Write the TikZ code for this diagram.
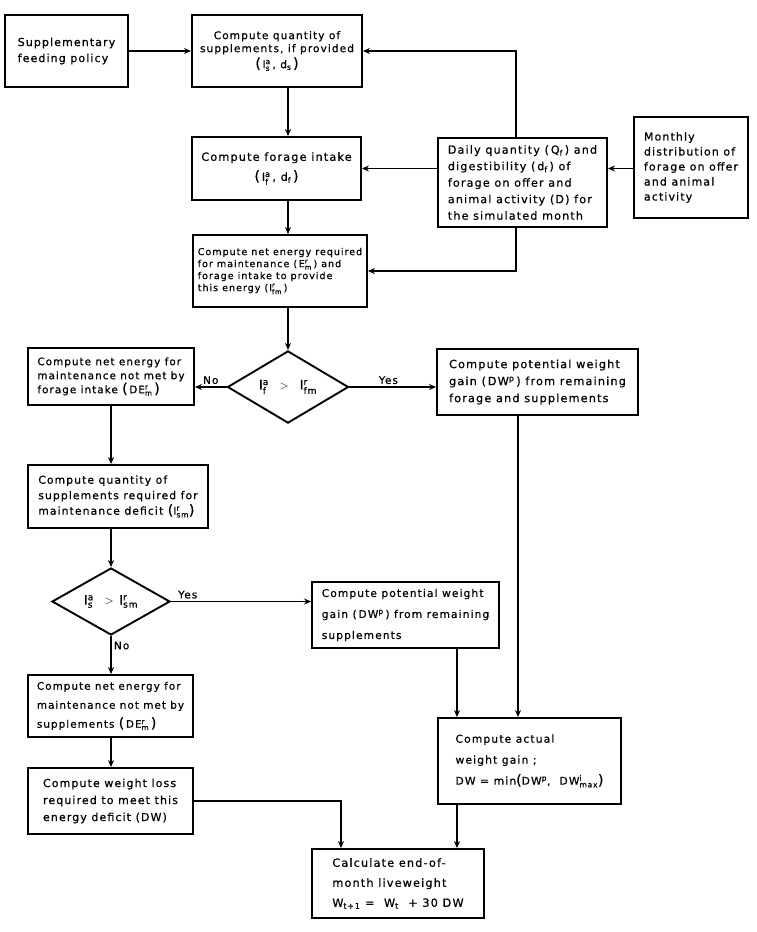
\documentclass[tikz,border=0pt]{standalone}
\usepackage{amsmath}
\usepackage{fontspec}
\setmainfont{DejaVu Sans}[LetterSpace=10,FakeBold=0.6]
\usepackage{tikz}
\usetikzlibrary{shapes.geometric}
\usetikzlibrary{arrows.meta}
\newcommand{\tvar}[3]{#1$^{\text{#2}}_{\text{#3}}$}
\newcommand{\lh}[2]{\fontsize{#1}{#2}\selectfont}
\newcommand{\lpar}{{\fontsize{14}{14}\selectfont(}}
\newcommand{\rpar}{{\fontsize{14}{14}\selectfont)}}
\tikzset{
	boxstyle/.style={rectangle,draw=black,line width=1.9pt,align=left,inner sep=2pt},
	teststyle/.style={diamond,draw=black,line width=1.9pt,inner sep=0pt,font=\lh{13}{14}},
	linkstyle/.style={-{Stealth[length=7pt,width=6pt]},line width=1.9pt},
	labelstyle/.style={font=\lh{10.5}{12},inner sep=2pt}
}
\begin{document}
\begin{tikzpicture}[x=1pt,y=-1pt]
	\useasboundingbox (0,0) rectangle (756,932);
	\node[boxstyle,minimum width=123,minimum height=72,font=\lh{11}{16}] (policy) at (66.5,51) {Supplementary\\feeding policy};
	\node[boxstyle,minimum width=170,minimum height=72,align=center,font=\lh{10.6}{13}] (suppqty) at (277,51) {Compute quantity of\\supplements, if provided\\[3pt]\lpar\,\tvar{I}{a}{s}\,,\ d$_\text{s}$\,\rpar};
	\node[boxstyle,minimum width=169,minimum height=63,align=center,font=\lh{11.3}{20}] (intake) at (276.5,168.5) {Compute forage intake\\\lpar\,\tvar{I}{a}{f}\,,\ d$_\text{f}$\,\rpar};
	\node[boxstyle,minimum width=169,minimum height=89,font=\lh{11.2}{16.5}] (forage) at (522.5,182.5) {Daily quantity (\,Q$_\text{f}$\,) and\\digestibility (\,d$_\text{f}$\,) of\\forage on offer and\\animal activity (D) for\\the simulated month};
	\node[boxstyle,minimum width=114,minimum height=101,font=\lh{11}{15}] (monthly) at (691,167.5) {Monthly\\distribution of\\forage on offer\\and animal\\activity};
	\node[boxstyle,minimum width=174,minimum height=72,font=\lh{9.6}{12}] (maint) at (280,271) {Compute net energy required\\for maintenance (\,\tvar{E}{r}{m}\,) and\\forage intake to provide\\this energy (\tvar{I}{r}{fm}\,)};
	\node[teststyle,minimum width=121,minimum height=71] (test1) at (288,387) {\tvar{I}{a}{f} \ $>$ \ \tvar{I}{r}{fm}};
	\node[boxstyle,minimum width=166,minimum height=57,font=\lh{10.4}{14}] (deficit1) at (111,376.5) {Compute net energy for\\maintenance not met by\\forage intake \lpar\,DE\tvar{}{r}{m}\,\rpar};
	\node[boxstyle,minimum width=201,minimum height=66,font=\lh{11.3}{17}] (gainfs) at (537.5,382) {Compute potential weight\\gain (\,DW$^\text{p}$\,) from remaining\\forage and supplements};
	\node[boxstyle,minimum width=180,minimum height=63,font=\lh{10.8}{15.5}] (suppreq) at (118,496.5) {Compute quantity of\\supplements required for\\maintenance deficit \lpar\tvar{I}{r}{sm}\rpar};
	\node[teststyle,minimum width=118,minimum height=67] (test2) at (111,601.5) {\tvar{I}{a}{s} \ $>$ \tvar{I}{r}{sm}};
	\node[boxstyle,minimum width=187,minimum height=66,font=\lh{10.7}{21}] (gains) at (405.5,615) {Compute potential weight\\gain (\,DW$^\text{p}$\,) from remaining\\supplements};
	\node[boxstyle,minimum width=165,minimum height=62,font=\lh{10.4}{19}] (deficit2) at (110.5,706) {Compute net energy for\\maintenance not met by\\supplements \lpar\,DE\tvar{}{r}{m}\,\rpar};
	\node[boxstyle,minimum width=165,minimum height=66,font=\lh{11}{17}] (loss) at (110.5,801) {Compute weight loss\\required to meet this\\energy deficit (DW)};
	\node[boxstyle,minimum width=183,minimum height=86,font=\lh{10.8}{21}] (actual) at (529.5,761) {Compute actual\\weight gain ;\\DW = min\lpar DW$^\text{p}$, \ DW\tvar{}{i}{max}\rpar};
	\node[boxstyle,minimum width=172,minimum height=69,font=\lh{11.3}{20}] (weight) at (398,883.5) {Calculate end-of-\\month liveweight\\W$_\text{t+1}$ = \ W$_\text{t}$ \ + 30 DW};
	\coordinate (fcol) at (516,0);
	\coordinate (pcol) at (518,0);
	\coordinate (gcol) at (457,0);
	\coordinate (lcol) at (341,0);
	\draw[linkstyle] (policy) -- (suppqty);
	\draw[linkstyle] (suppqty.south -| test1) -- (intake.north -| test1);
	\draw[linkstyle] (forage.north -| fcol) |- (suppqty.east);
	\draw[linkstyle] (forage.west |- intake.east) -- (intake.east);
	\draw[linkstyle] (monthly.west |- intake.east) -- (forage.east |- intake.east);
	\draw[linkstyle] (forage.south -| fcol) |- (maint.east);
	\draw[linkstyle] (intake.south -| test1) -- (maint.north -| test1);
	\draw[linkstyle] (maint.south -| test1) -- (test1.north);
	\draw[linkstyle] (test1.west) -- node[labelstyle,above]{No} (test1.west -| deficit1.east);
	\draw[linkstyle] (test1.east) -- node[labelstyle,above,pos=0.45]{Yes} (test1.east -| gainfs.west);
	\draw[linkstyle] (deficit1.south -| test2) -- (suppreq.north -| test2);
	\draw[linkstyle] (suppreq.south -| test2) -- (test2.north);
	\draw[linkstyle] (test2.east) -- node[labelstyle,above,pos=0.12]{Yes} (test2.east -| gains.west);
	\draw[linkstyle] (test2.south) -- node[labelstyle,right,pos=0.25]{No} (deficit2.north -| test2);
	\draw[linkstyle] (deficit2.south -| test2) -- (loss.north -| test2);
	\draw[linkstyle] (loss.east) -| (weight.north -| lcol);
	\draw[linkstyle] (gainfs.south -| pcol) -- (actual.north -| pcol);
	\draw[linkstyle] (gains.south -| gcol) -- (actual.north -| gcol);
	\draw[linkstyle] (actual.south -| gcol) -- (weight.north -| gcol);
\end{tikzpicture}
\end{document}
